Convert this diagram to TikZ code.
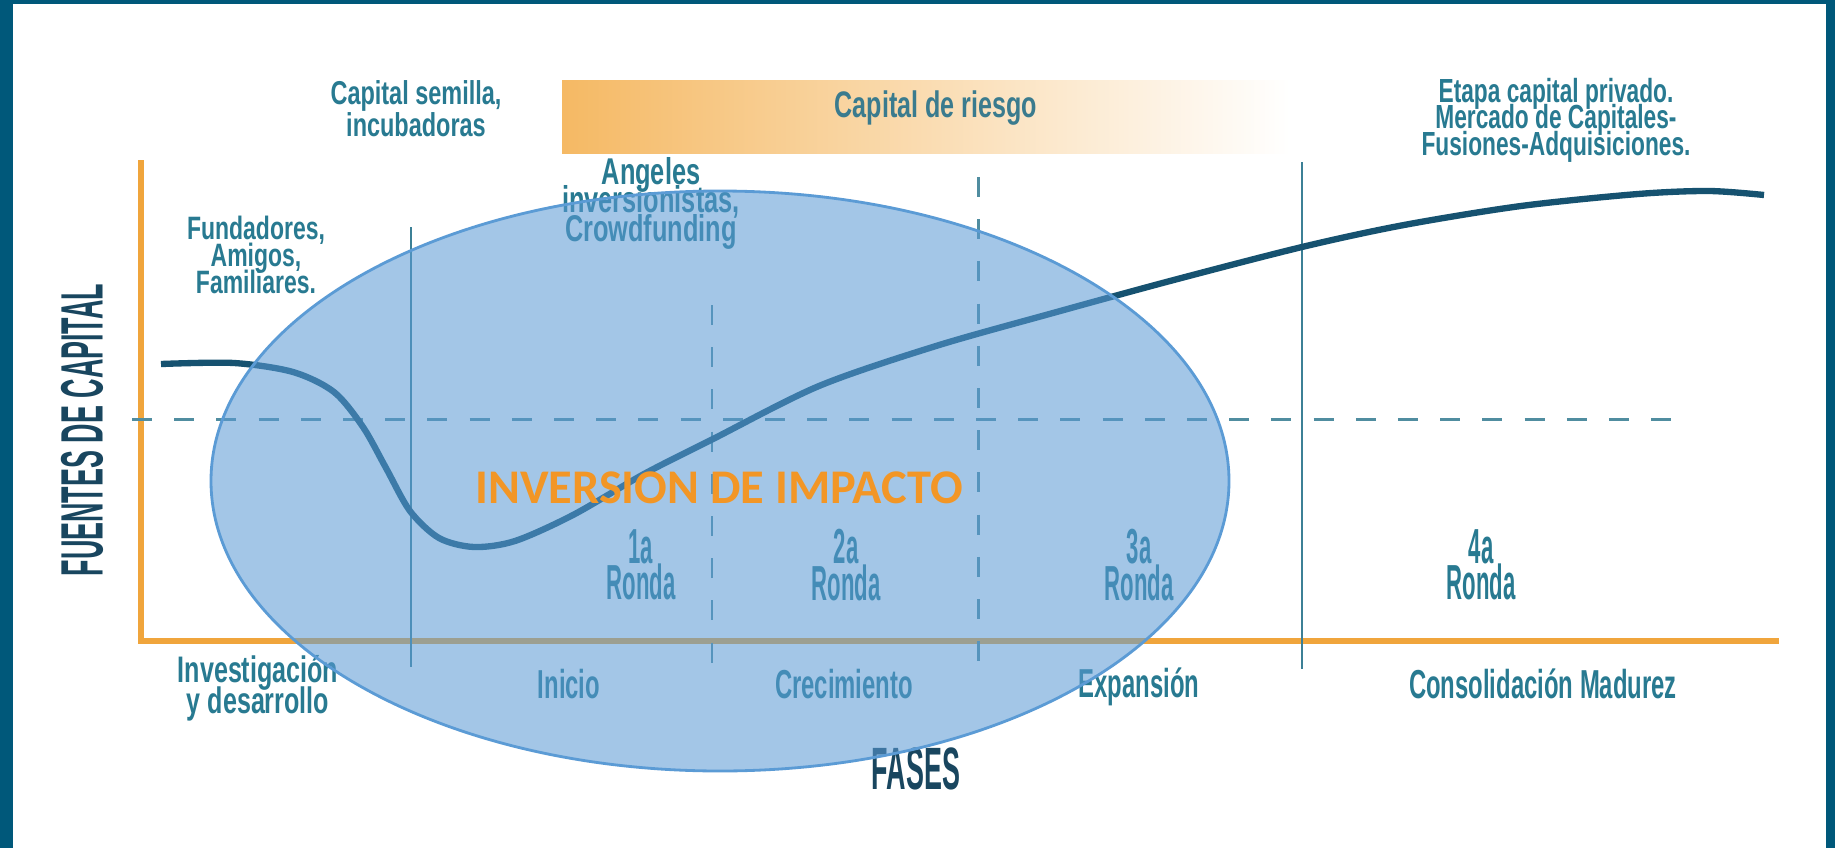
\documentclass[tikz,border=0pt]{standalone}
\usepackage{fontspec}
\setmainfont{Liberation Sans}
\newfontfamily\cnA[FakeStretch=0.71]{Liberation Sans}
\newfontfamily\cnB[FakeStretch=0.68]{Liberation Sans}
\newfontfamily\cnC[FakeStretch=0.59]{Liberation Sans}
\newfontfamily\cnD[FakeStretch=0.45]{Liberation Sans}
\newfontfamily\imfont{Carlito}
\usepackage{tikz}
\usetikzlibrary{calc}
\lineskiplimit=-20pt

\definecolor{frame}{RGB}{0,88,122}
\definecolor{axis}{RGB}{240,165,60}
\definecolor{crv}{RGB}{22,82,112}
\definecolor{txt}{RGB}{40,122,145}
\definecolor{dark}{RGB}{25,70,95}
\definecolor{guide}{RGB}{60,128,150}
\definecolor{band}{RGB}{245,185,100}
\definecolor{bubble}{RGB}{91,155,213}
\definecolor{impact}{RGB}{242,150,38}

\begin{document}
\begin{tikzpicture}[x=0.01cm,y=-0.01cm,inner sep=0pt,
  lbl/.style={text=txt,align=center},
  top/.style={lbl,font=\cnA\bfseries\fontsize{9.4}{9.1}\selectfont},
  mid/.style={lbl,font=\cnB\bfseries\fontsize{9.5}{7.5}\selectfont},
  fase/.style={lbl,font=\cnC\bfseries\fontsize{11.5}{12}\selectfont},
  rnd/.style={lbl,font=\cnD\bfseries\fontsize{14}{10.3}\selectfont},
  ttl/.style={text=dark,font=\cnD\bfseries\fontsize{17}{18}\selectfont},
  thin/.style={draw=guide,line width=.7pt},
  cut/.style={draw=guide!90!white,line width=.85pt,dash pattern=on 5.7pt off 6.3pt}]
\useasboundingbox (0,0) rectangle (1835,848);
\fill[frame] (0,0) rectangle (1835,848);
\fill[white] (13,4) rectangle (1826,848);

% band
\shade[left color=band,right color=white] (562,80) rectangle (1290,153);
\node [lbl,text=txt!80!gray,font=\cnB\bfseries\fontsize{10.5}{11}\selectfont] (riesgo) at (936,108) {Capital de riesgo};

% sources
\node [top] (semilla) at (416,109) {Capital semilla,\\incubadoras};
\node [top,font=\cnA\bfseries\fontsize{9.2}{7.7}\selectfont] (fund) at (256,255) {Fundadores,\\Amigos,\\Familiares.};
\node [mid,font=\cnB\bfseries\fontsize{10.6}{8.1}\selectfont] (angeles) at (651,203) {Angeles\\inversionistas,\\Crowdfunding};
\node [mid] (etapa) at (1556,120) {Etapa capital privado.\\Mercado de Capitales-\\Fusiones-Adquisiciones.};

% rounds
\node [rnd] (r1) at (641,565) {1a\\Ronda};
\node [rnd] (r2) at (846,565) {2a\\Ronda};
\node [rnd] (r3) at (1139,565) {3a\\Ronda};
\node [rnd] (r4) at (1481,565) {4a\\Ronda};

% phases
\node [mid,font=\cnB\bfseries\fontsize{10.5}{8.9}\selectfont] (id) at (258,688) {Investigación\\y desarrollo};
\node [fase] (inicio) at (569,684) {Inicio};
\node [fase] (crec) at (844,684) {Crecimiento};
\node [fase] (exp) at (1139,687) {Expansión};
\node [fase] (cons) at (1543,684) {Consolidación Madurez};

\node [ttl,rotate=90] (fuentes) at (82,430) {FUENTES DE CAPITAL};
\node [ttl] (fases) at (916,769) {FASES};

% axes and guides
\coordinate (O) at (141,641);
\coordinate (Ytop) at (141,160);
\coordinate (Xend) at (1779,641);
\draw [axis,line width=1.6pt] (Ytop) -- (O) -- (Xend);
\draw [thin] (411,227) -- (411,667);
\draw [thin] (1302,162) -- (1302,669);
\draw [cut] (712,305) -- (712,669);
\draw [cut] (978,177) -- (978,669);
\draw [cut] (132,419) -- (1692,419);

% capital curve
\draw [crv,line width=1.8pt] plot[smooth,tension=.5] coordinates {(161,364) (234,363) (293,372) (334,392) (363,427) (386,468) (410,511) (439,538) (474,547) (515,541) (573,515) (644,474) (713,439) (819,386) (936,346) (1053,313) (1170,281) (1302,247) (1404,225) (1521,206) (1638,194) (1709,191) (1764,195)};

% impact bubble
\draw [bubble,line width=.8pt,fill=bubble,fill opacity=.56] (720,481) ellipse [x radius=509,y radius=290];
\node [text=impact,font=\imfont\bfseries\fontsize{13.75}{15}\selectfont] (impacto) at (719,488) {INVERSION DE IMPACTO};
\end{tikzpicture}
\end{document}
